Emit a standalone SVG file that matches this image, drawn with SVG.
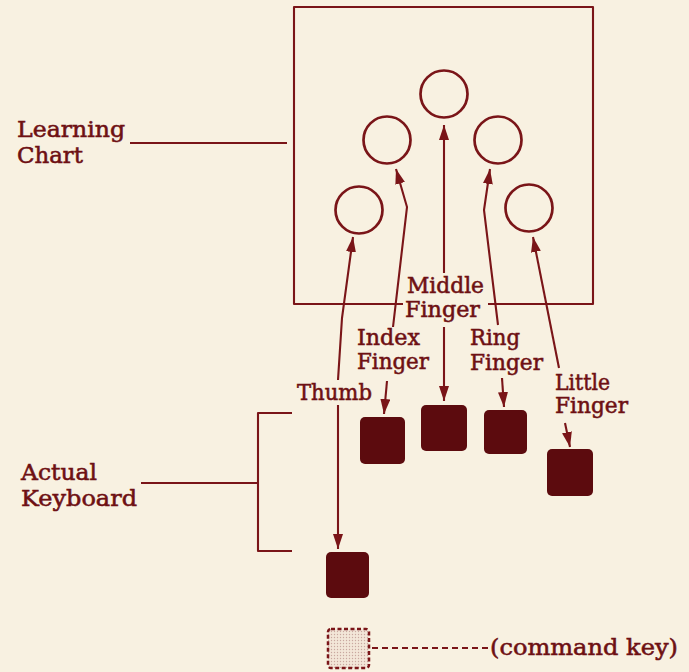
<svg xmlns="http://www.w3.org/2000/svg" width="689" height="672" viewBox="0 0 689 672">
<style>
.ln{fill:none;stroke:#7a1518;stroke-width:2.1;stroke-linejoin:round}
.ar{fill:none;stroke:#7a1518;stroke-width:2.1;marker-end:url(#ah)}
.t{font-family:"DejaVu Serif","Liberation Serif",serif;font-size:22px;fill:#6e1013;stroke:#6e1013;stroke-width:0.55}
.key{fill:#5c0b0e}
.cir{fill:none;stroke:#7a1518;stroke-width:2.7}
</style>
<defs>
<marker id="ah" viewBox="0 0 15 10" refX="15" refY="5" markerWidth="15" markerHeight="10" markerUnits="userSpaceOnUse" orient="auto">
<path d="M0,0 L15,5 L0,10 z" fill="#7a1518"/>
</marker>
<pattern id="dots" width="3" height="3" patternUnits="userSpaceOnUse">
<rect width="3" height="3" fill="#f3e6d8"/>
<circle cx="1.5" cy="1.5" r="0.7" fill="#c9a8a0"/>
</pattern>
</defs>
<rect width="689" height="672" fill="#f8f1e1"/>

<g id="learning-chart">
<path class="ln" d="M403,304 L294,304 L294,7 L593,7 L593,304 L488,304"/>
<text class="t" x="17" y="137" textLength="108" lengthAdjust="spacingAndGlyphs">Learning</text>
<text class="t" x="17" y="163" textLength="66" lengthAdjust="spacingAndGlyphs">Chart</text>
</g>

<g id="chart-circles">
<circle id="c-thumb" class="cir" cx="359" cy="210" r="23.5"/>
<circle id="c-index" class="cir" cx="387" cy="140" r="23.5"/>
<circle id="c-middle" class="cir" cx="444" cy="94" r="23.5"/>
<circle id="c-ring" class="cir" cx="498" cy="140" r="23.5"/>
<circle id="c-little" class="cir" cx="529" cy="208" r="23.5"/>
</g>

<g id="actual-keyboard">
<text class="t" x="21" y="480" textLength="76" lengthAdjust="spacingAndGlyphs">Actual</text>
<text class="t" x="21" y="506" textLength="116" lengthAdjust="spacingAndGlyphs">Keyboard</text>
</g>

<g id="keys">
<rect id="k-thumb" class="key" x="326" y="552" width="43" height="46" rx="5"/>
<rect id="k-index" class="key" x="360" y="417" width="45" height="47" rx="5"/>
<rect id="k-middle" class="key" x="421" y="405" width="46" height="46" rx="5"/>
<rect id="k-ring" class="key" x="484" y="410" width="43" height="44" rx="5"/>
<rect id="k-little" class="key" x="547" y="449" width="46" height="47" rx="5"/>
</g>

<g id="command-key">
<rect x="328" y="629" width="41" height="39" rx="3" fill="url(#dots)" stroke="#7a1518" stroke-width="2.5" stroke-dasharray="4,2.5"/>
<text class="t" x="490" y="655" textLength="188" lengthAdjust="spacingAndGlyphs">(command key)</text>
</g>

<g id="labels">
<text class="t" x="297" y="400" textLength="75" lengthAdjust="spacingAndGlyphs">Thumb</text>
<text class="t" x="357" y="345" textLength="63" lengthAdjust="spacingAndGlyphs">Index</text>
<text class="t" x="357" y="369" textLength="72" lengthAdjust="spacingAndGlyphs">Finger</text>
<text class="t" x="407" y="293" textLength="77" lengthAdjust="spacingAndGlyphs">Middle</text>
<text class="t" x="405" y="317" textLength="75" lengthAdjust="spacingAndGlyphs">Finger</text>
<text class="t" x="470" y="345" textLength="50" lengthAdjust="spacingAndGlyphs">Ring</text>
<text class="t" x="470" y="370" textLength="73" lengthAdjust="spacingAndGlyphs">Finger</text>
<text class="t" x="555" y="390" textLength="55" lengthAdjust="spacingAndGlyphs">Little</text>
<text class="t" x="555" y="413" textLength="73" lengthAdjust="spacingAndGlyphs">Finger</text>
</g>

<g id="connectors">
<path class="ln" d="M130,143 L287,143"/>
<path class="ln" d="M292,413 L258,413 L258,551 L292,551"/>
<path class="ln" d="M141,483 L258,483"/>
<path class="ln" d="M372,648 L488,648" stroke-dasharray="6,4"/>
<path class="ar" d="M338,380 L342,318 L353,237"/>
<path class="ar" d="M338,405 L338,549"/>
<path class="ar" d="M393,327 L407,207 L396,169"/>
<path class="ar" d="M387,381 L384,414"/>
<path class="ar" d="M444,273 L444,125"/>
<path class="ar" d="M444,327 L444,401"/>
<path class="ar" d="M498,325 L484,210 L490,169"/>
<path class="ar" d="M502,378 L504,407"/>
<path class="ar" d="M559,368 L533,237"/>
<path class="ar" d="M565,423 L570,447"/>
</g>
</svg>
